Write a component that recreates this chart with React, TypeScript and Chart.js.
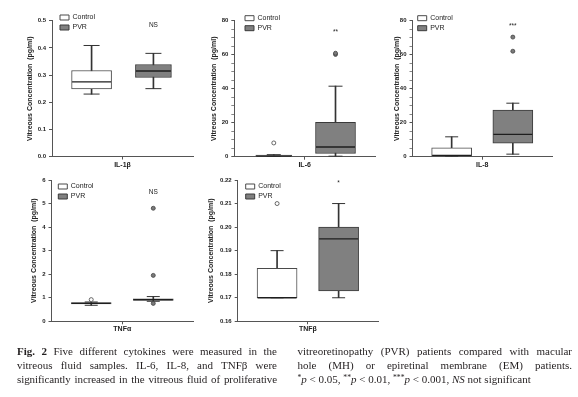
import React, { useEffect, useRef } from 'react';
import { Chart, registerables } from 'chart.js';

Chart.register(...registerables);

const FONT = '"Liberation Sans", Arial, Helvetica, sans-serif';

// groups shown in every panel
const groups = ['Control', 'PVR'];

// five-number summaries: [min, Q1, median, Q3, max] (pg/ml)
const il1bControl = [0.23, 0.249, 0.275, 0.317, 0.409];
const il1bPvr = [0.25, 0.291, 0.315, 0.339, 0.38];
const il1bControlOutliers: number[] = [];
const il1bPvrOutliers: number[] = [];

const il6Control = [0.0, 0.1, 0.4, 1.0, 1.2];
const il6Pvr = [0.3, 1.9, 5.7, 20.2, 41.5];
const il6ControlOutliers = [8.1];
const il6PvrOutliers = [60.2, 60.9];

const il8Control = [0.0, 0.3, 0.8, 5.2, 11.7];
const il8Pvr = [1.5, 7.9, 13.2, 27.4, 31.5];
const il8ControlOutliers: number[] = [];
const il8PvrOutliers = [62.1, 70.4];

const tnfaControl = [0.68, 0.74, 0.76, 0.79, 0.82];
const tnfaPvr = [0.85, 0.89, 0.92, 0.95, 1.05];
const tnfaControlOutliers = [0.92];
const tnfaPvrOutliers = [0.76, 1.95, 4.8];

const tnfbControl = [0.17, 0.17, 0.17, 0.1825, 0.19];
const tnfbPvr = [0.17, 0.1729, 0.195, 0.2, 0.21];
const tnfbControlOutliers = [0.21];
const tnfbPvrOutliers: number[] = [];

// cytokine names (x labels) and significance marks
const cytokines = ['IL-1β', 'IL-6', 'IL-8', 'TNFα', 'TNFβ'];
const significance = ['NS', '**', '***', 'NS', '*'];
const significanceAt = [0.485, 73, 77, 5.5, 0.2185];

// y axis settings
const yMins = [0, 0, 0, 0, 0.16];
const yMaxs = [0.5, 80, 80, 6, 0.22];
const yTickSteps = [0.1, 5, 5, 1, 0.01];
const yLabelSteps = [0.1, 20, 20, 1, 0.01];
const yDecimals = [1, 0, 0, 0, 2];

const Y_TITLE = 'Vitreous Concentration  (pg/ml)';

// layout (page pixels)
const layouts = [
  { axisX: 52, top: 14.5, right: 193, bottom: 156.5, titleX: 30, legX: 60, legY: 15, boxW: [40, 36], cap: 8 },
  { axisX: 234.3, top: 15.3, right: 375, bottom: 156.7, titleX: 213.7, legX: 245, legY: 15.7, boxW: [36, 40], cap: 7 },
  { axisX: 412.5, top: 15.3, right: 552, bottom: 156.7, titleX: 397, legX: 417.7, legY: 15.7, boxW: [40, 40], cap: 6.5 },
  { axisX: 51.5, top: 180, right: 193, bottom: 321.3, titleX: 33.7, legX: 58.3, legY: 184, boxW: [40, 40], cap: 6.5 },
  { axisX: 237.7, top: 180, right: 378, bottom: 321.3, titleX: 211.5, legX: 245.7, legY: 184, boxW: [40, 40], cap: 6.5 },
];

const panelData = [
  [il1bControl, il1bPvr, il1bControlOutliers, il1bPvrOutliers],
  [il6Control, il6Pvr, il6ControlOutliers, il6PvrOutliers],
  [il8Control, il8Pvr, il8ControlOutliers, il8PvrOutliers],
  [tnfaControl, tnfaPvr, tnfaControlOutliers, tnfaPvrOutliers],
  [tnfbControl, tnfbPvr, tnfbControlOutliers, tnfbPvrOutliers],
];

const X_H = 20;
const W = 578;
const H = 397;

function buildConfig(i: number): any {
  const L = layouts[i];
  const [control, pvr, cOut, pOut] = panelData[i];
  const stats = [control, pvr];
  const yLeft = L.titleX - 4.2;
  const yWidth = L.axisX - yLeft;
  const labelStep = yLabelSteps[i];
  const isMajor = (v: number) => Math.abs(v / labelStep - Math.round(v / labelStep)) < 1e-6;

  const legendShift = {
    id: 'legendShift' + i,
    afterLayout(chart: any) {
      const lg = chart.legend;
      if (!lg) return;
      lg.left = L.legX - 3;
      lg.top = L.legY - 4;
      lg.width = 90;
      lg.height = 40;
      lg.right = lg.left + 90;
      lg.bottom = lg.top + 40;
    },
  };

  const sigPlugin = {
    id: 'sig' + i,
    afterDatasetsDraw(chart: any) {
      const ctx = chart.ctx;
      const x = chart.scales.x.getPixelForValue(1);
      const y = chart.scales.y.getPixelForValue(significanceAt[i]);
      ctx.save();
      ctx.font = '6.5px ' + FONT;
      ctx.fillStyle = '#222';
      ctx.textAlign = 'center';
      ctx.textBaseline = 'middle';
      ctx.fillText(significance[i], x, y);
      ctx.restore();
    },
  };

  return {
    type: 'bar',
    data: {
      datasets: [
        {
          type: 'bar', label: 'whisker',
          data: stats.map((s, k) => ({ x: k, y: [s[0], s[4]] })),
          backgroundColor: '#333', borderWidth: 0, barThickness: 1, grouped: false, order: 5,
        },
        {
          type: 'bar', label: groups[0],
          data: [{ x: 0, y: [control[1], control[3]] }],
          backgroundColor: '#ffffff', borderColor: '#4a4a4a', borderWidth: 1, borderSkipped: false,
          barThickness: L.boxW[0], grouped: false, order: 4,
        },
        {
          type: 'bar', label: groups[1],
          data: [{ x: 1, y: [pvr[1], pvr[3]] }],
          backgroundColor: '#808080', borderColor: '#3a3a3a', borderWidth: 1, borderSkipped: false,
          barThickness: L.boxW[1], grouped: false, order: 4,
        },
        {
          type: 'scatter', label: 'cap',
          data: stats.flatMap((s, k) => [{ x: k, y: s[0] }, { x: k, y: s[4] }]),
          pointStyle: 'line', pointRadius: L.cap, pointHoverRadius: L.cap,
          pointBorderColor: '#333', pointBorderWidth: 1, order: 3,
        },
        {
          type: 'scatter', label: 'median',
          data: stats.map((s, k) => ({ x: k, y: s[2] })),
          pointStyle: 'line',
          pointRadius: (c: any) => L.boxW[c.dataIndex] / 2 - 0.5,
          pointHoverRadius: (c: any) => L.boxW[c.dataIndex] / 2 - 0.5,
          pointBorderColor: '#1e1e1e', pointBorderWidth: 1.3, order: 2,
        },
        {
          type: 'scatter', label: 'outC',
          data: cOut.map((v) => ({ x: 0, y: v })),
          pointStyle: 'circle', pointRadius: 2, pointHoverRadius: 2,
          pointBackgroundColor: '#ffffff', pointBorderColor: '#444', pointBorderWidth: 0.8, order: 1,
        },
        {
          type: 'scatter', label: 'outP',
          data: pOut.map((v) => ({ x: 1, y: v })),
          pointStyle: 'circle', pointRadius: 2, pointHoverRadius: 2,
          pointBackgroundColor: '#7a7a7a', pointBorderColor: '#444', pointBorderWidth: 0.8, order: 1,
        },
      ],
    },
    options: {
      animation: false,
      responsive: false,
      maintainAspectRatio: false,
      events: [],
      layout: {
        padding: { left: yLeft, top: L.top, right: W - L.right, bottom: H - L.bottom - X_H },
      },
      plugins: {
        legend: {
          position: 'chartArea',
          align: 'start',
          labels: {
            filter: (it: any) => it.text === groups[0] || it.text === groups[1],
            boxWidth: 9, boxHeight: 5, padding: 3, color: '#222',
            font: { size: 7, family: FONT },
          },
        },
        tooltip: { enabled: false },
      },
      scales: {
        x: {
          type: 'linear', min: -0.64, max: 1.64, offset: false,
          afterBuildTicks: (s: any) => { s.ticks = [{ value: 0.5 }]; },
          afterFit: (s: any) => { s.height = X_H; },
          ticks: {
            callback: () => cytokines[i], autoSkip: false, maxRotation: 0,
            font: { size: 7, weight: 'bold', family: FONT }, color: '#222', padding: 1,
          },
          grid: { drawOnChartArea: false, drawTicks: true, tickLength: 3, color: '#555', offset: false },
          border: { display: true, color: '#555', width: 1 },
        },
        y: {
          type: 'linear', min: yMins[i], max: yMaxs[i],
          afterFit: (s: any) => { s.width = yWidth; },
          ticks: {
            stepSize: yTickSteps[i], autoSkip: false,
            callback: (v: number) => (isMajor(v) ? Number(v).toFixed(yDecimals[i]) : ''),
            font: { size: 6, weight: 'bold', family: FONT }, color: '#222', padding: 3,
          },
          grid: {
            drawOnChartArea: false, drawTicks: true, tickLength: 3,
            color: (c: any) => (c.tick && isMajor(c.tick.value) ? '#555' : '#888'),
          },
          border: { display: true, color: '#555', width: 1 },
          title: {
            display: true, text: Y_TITLE, color: '#222', padding: 0,
            font: { size: 7, weight: 'bold', family: FONT },
          },
        },
      },
    },
    plugins: [legendShift, sigPlugin],
  };
}

function BoxPanel({ index }: { index: number }) {
  const ref = useRef<HTMLCanvasElement>(null);
  useEffect(() => {
    const chart = new Chart(ref.current as HTMLCanvasElement, buildConfig(index));
    return () => chart.destroy();
  }, [index]);
  return (
    <canvas
      ref={ref}
      width={W}
      height={H}
      style={{ position: 'absolute', left: 0, top: 0, width: W, height: H }}
    />
  );
}

const captionFont: React.CSSProperties = {
  fontFamily: '"Liberation Serif", "Times New Roman", serif',
  fontSize: 11,
  lineHeight: '14px',
  color: '#231f20',
};
const just: React.CSSProperties = { textAlign: 'justify', textAlignLast: 'justify' } as any;
const supStyle: React.CSSProperties = { fontSize: '0.7em', verticalAlign: '0.4em', lineHeight: 0 };

export default function App() {
  return (
    <div
      style={{
        position: 'fixed', left: 0, top: 0, width: W, height: H,
        background: '#ffffff', overflow: 'hidden',
      }}
    >
      {cytokines.map((_, i) => (
        <BoxPanel key={i} index={i} />
      ))}
      <div style={{ ...captionFont, position: 'absolute', left: 17, top: 343.5, width: 260 }}>
        <div style={just}><b>Fig. 2</b> Five different cytokines were measured in the</div>
        <div style={just}>vitreous fluid samples. IL-6, IL-8, and TNFβ were</div>
        <div style={{ ...just, letterSpacing: '-0.1px' }}>significantly increased in the vitreous fluid of proliferative</div>
      </div>
      <div style={{ ...captionFont, position: 'absolute', left: 297.5, top: 343.5, width: 274.5 }}>
        <div style={just}>vitreoretinopathy (PVR) patients compared with macular</div>
        <div style={just}>hole (MH) or epiretinal membrane (EM) patients.</div>
        <div>
          <span style={supStyle}>*</span><i>p</i> &lt; 0.05, <span style={supStyle}>**</span><i>p</i> &lt; 0.01,{' '}
          <span style={supStyle}>***</span><i>p</i> &lt; 0.001, <i>NS</i> not significant
        </div>
      </div>
    </div>
  );
}
